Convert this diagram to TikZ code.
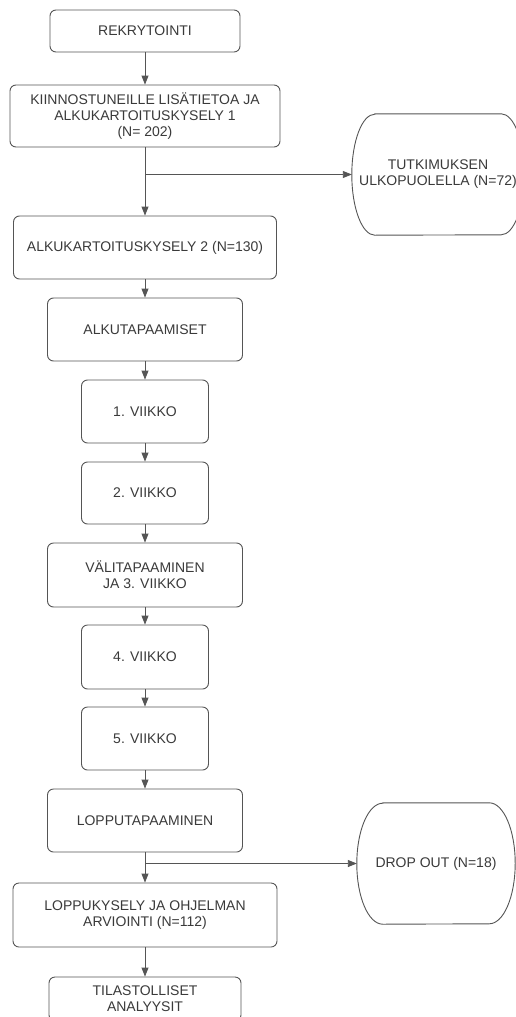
\documentclass[tikz,border=0pt]{standalone}
\usepackage{fontspec}
\setmainfont{Liberation Sans}
\usetikzlibrary{arrows.meta}
\definecolor{linegray}{HTML}{555555}
\definecolor{textgray}{HTML}{3A3A3A}
\tikzset{
  txt/.style={text=textgray, align=center, inner sep=0pt, font=\fontsize{14}{16}\selectfont},
  box/.style={txt, draw=linegray, line width=0.9pt, rounded corners=6pt},
  outline/.style={draw=linegray, line width=0.9pt},
  flow/.style={outline, -{Triangle[length=9pt,width=7pt]}}
}
\begin{document}
\begin{tikzpicture}[x=1pt,y=1pt]
\useasboundingbox (0,0) rectangle (516,-1017);
\clip (0,0) rectangle (516,-1017);
\fill[white] (0,0) rectangle (516,-1017);
% main column
\node[box, minimum width=190pt, minimum height=42pt] (rekry) at (145,-31) {REKRYTOINTI};
\node[box, minimum width=270pt, minimum height=62pt] (kiinn) at (145,-116) {KIINNOSTUNEILLE LIS\"ATIETOA JA\\ALKUKARTOITUSKYSELY 1\\(N= 202)};
\node[box, minimum width=263pt, minimum height=63pt] (alku2) at (145,-247.5) {ALKUKARTOITUSKYSELY 2 (N=130)};
\node[box, minimum width=195pt, minimum height=63pt] (alkut) at (145,-329.5) {ALKUTAPAAMISET};
\node[box, minimum width=127pt, minimum height=63pt] (vk1) at (145,-411.5) {1. VIIKKO};
\node[box, minimum width=127pt, minimum height=62pt] (vk2) at (145,-493) {2. VIIKKO};
\node[box, minimum width=195pt, minimum height=64pt] (vali) at (145,-575) {V\"ALITAPAAMINEN\\JA 3. VIIKKO};
\node[box, minimum width=127pt, minimum height=64pt] (vk4) at (145,-657) {4. VIIKKO};
\node[box, minimum width=127pt, minimum height=63pt] (vk5) at (145,-738.5) {5. VIIKKO};
\node[box, minimum width=195pt, minimum height=63pt] (loppt) at (145,-820.5) {LOPPUTAPAAMINEN};
\node[box, minimum width=264pt, minimum height=64pt] (loppuk) at (145,-915) {LOPPUKYSELY JA OHJELMAN\\ARVIOINTI (N=112)};
\node[box, minimum width=192pt, minimum height=44pt] (tilas) at (145,-999) {TILASTOLLISET\\ANALYYSIT};
% side exits
\node[txt, minimum width=172pt, minimum height=121pt] (tutk) at (438,-174.5) {TUTKIMUKSEN\\ULKOPUOLELLA (N=72)};
\draw[outline] ([xshift=23pt]tutk.north west) -- ([xshift=-23pt]tutk.north east)
  arc[start angle=90, end angle=-90, x radius=23pt, y radius=60.5pt]
  -- ([xshift=23pt]tutk.south west)
  arc[start angle=270, end angle=90, x radius=23pt, y radius=60.5pt] -- cycle;
\node[txt, minimum width=158pt, minimum height=121pt] (drop) at (436,-863.5) {DROP OUT (N=18)};
\draw[outline] ([xshift=26pt]drop.north west) -- ([xshift=-26pt]drop.north east)
  arc[start angle=90, end angle=-90, x radius=26pt, y radius=60.5pt]
  -- ([xshift=26pt]drop.south west)
  arc[start angle=270, end angle=90, x radius=26pt, y radius=60.5pt] -- cycle;
\coordinate (split1) at (kiinn.south |- tutk.west);
\coordinate (split2) at (loppt.south |- drop.west);
% connectors
\draw[flow] (rekry) -- (kiinn);
\draw[flow] (kiinn) -- (alku2);
\draw[flow] (split1) -- (tutk.west);
\draw[flow] (alku2) -- (alkut);
\draw[flow] (alkut) -- (vk1);
\draw[flow] (vk1) -- (vk2);
\draw[flow] (vk2) -- (vali);
\draw[flow] (vali) -- (vk4);
\draw[flow] (vk4) -- (vk5);
\draw[flow] (vk5) -- (loppt);
\draw[flow] (loppt) -- (loppuk);
\draw[flow] (split2) -- (drop.west);
\draw[flow] (loppuk) -- (tilas);
\end{tikzpicture}
\end{document}
